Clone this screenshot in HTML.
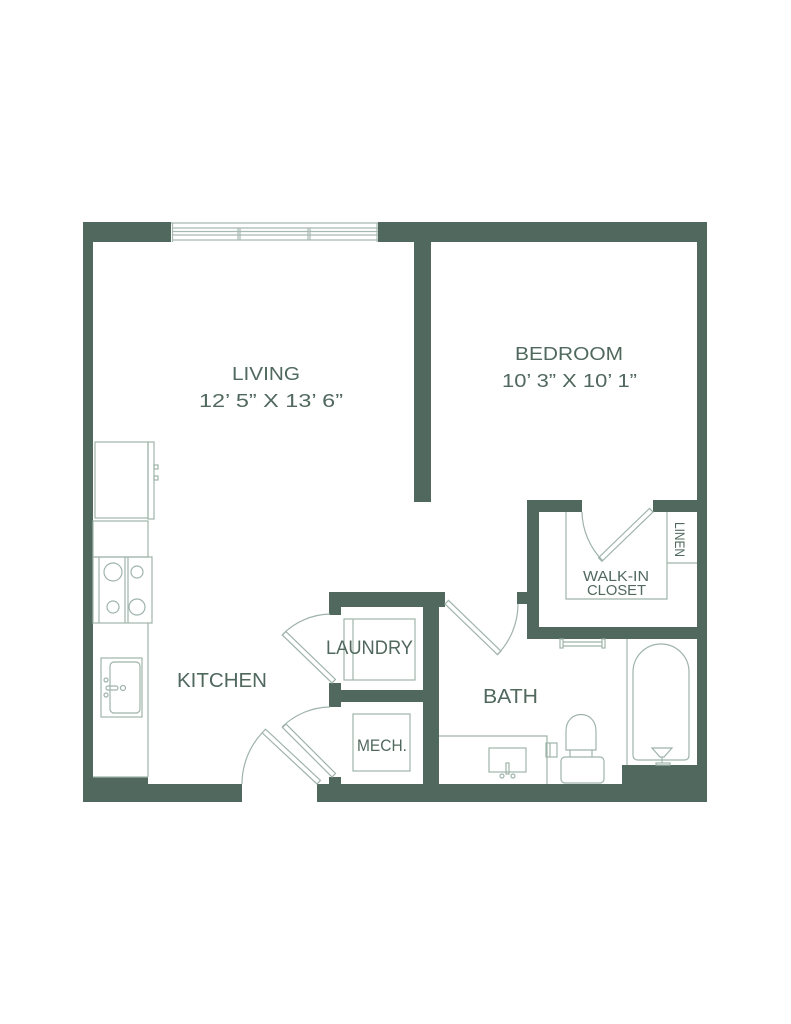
<!DOCTYPE html>
<html>
<head>
<meta charset="utf-8">
<style>
html,body{margin:0;padding:0;background:#fff;}
svg{display:block;}
text{font-family:"Liberation Sans",sans-serif;fill:#50685e;}
</style>
</head>
<body>
<svg width="791" height="1024" viewBox="0 0 791 1024" xmlns="http://www.w3.org/2000/svg">
<rect x="0" y="0" width="791" height="1024" fill="#fff"/>

<!-- Window -->
<g fill="none" stroke="#a7b9b2" stroke-width="1.2">
  <line x1="171" y1="223" x2="378" y2="223"/>
  <line x1="172" y1="228" x2="378" y2="228"/>
  <line x1="172" y1="231.5" x2="378" y2="231.5"/>
  <line x1="172" y1="235" x2="378" y2="235"/>
  <line x1="172" y1="240" x2="378" y2="240"/>
  <line x1="172.5" y1="223" x2="172.5" y2="242"/>
  <line x1="238" y1="228" x2="238" y2="240"/>
  <line x1="240" y1="228" x2="240" y2="240"/>
  <line x1="308" y1="228" x2="308" y2="240"/>
  <line x1="310" y1="228" x2="310" y2="240"/>
  <line x1="377" y1="223" x2="377" y2="242"/>
</g>

<!-- Walls -->
<g fill="#50685e">
  <rect x="83" y="222" width="88" height="20"/>
  <rect x="83" y="222" width="10" height="580"/>
  <rect x="378" y="222" width="329" height="20"/>
  <rect x="697" y="222" width="10" height="580"/>
  <rect x="414" y="240" width="17" height="262"/>
  <rect x="83" y="784" width="159" height="18"/>
  <rect x="93" y="777" width="55" height="8"/>
  <rect x="317" y="784" width="390" height="18"/>
  <!-- laundry / mech block -->
  <rect x="329" y="592" width="116" height="15"/>
  <rect x="329" y="606" width="12" height="9"/>
  <rect x="329" y="683" width="12" height="24"/>
  <rect x="329" y="777" width="12" height="8"/>
  <rect x="340" y="690" width="84" height="12"/>
  <rect x="423" y="592" width="16" height="193"/>
  <!-- closet -->
  <rect x="527" y="500" width="55" height="12"/>
  <rect x="653" y="500" width="45" height="12"/>
  <rect x="527" y="500" width="12" height="139"/>
  <rect x="527" y="627" width="171" height="12"/>
  <rect x="517" y="592" width="11" height="12"/>
  <!-- tub end -->
  <rect x="622" y="765" width="76" height="20"/>
</g>

<!-- Fixtures -->
<g fill="none" stroke="#9fb3ab" stroke-width="1.2">
  <!-- fridge -->
  <rect x="95" y="442" width="53" height="76"/>
  <rect x="148" y="442" width="6" height="77"/>
  <rect x="154" y="465" width="4" height="4"/>
  <rect x="154" y="476" width="4" height="4"/>
  <!-- counter -->
  <rect x="93" y="521" width="55" height="36"/>
  <!-- range -->
  <rect x="93" y="557" width="59" height="66"/>
  <line x1="99" y1="557" x2="99" y2="623"/>
  <line x1="125" y1="557" x2="125" y2="623"/>
  <line x1="128" y1="557" x2="128" y2="623"/>
  <circle cx="113" cy="572" r="9"/>
  <circle cx="137" cy="572" r="6"/>
  <circle cx="113" cy="607" r="6"/>
  <circle cx="137" cy="607" r="8"/>
  <line x1="148" y1="623" x2="148" y2="777"/>
  <line x1="93" y1="777" x2="148" y2="777"/>
  <!-- sink -->
  <rect x="101" y="658" width="41" height="59"/>
  <rect x="110" y="662" width="30" height="51" rx="4"/>
  <circle cx="106" cy="680" r="2"/>
  <circle cx="106" cy="695" r="2"/>
  <rect x="106" y="686" width="12" height="4" rx="2"/>
  <circle cx="123" cy="688" r="2.5"/>

  <!-- kitchen entry door -->
  <g transform="translate(317,784) rotate(-137)"><rect x="0" y="0" width="75" height="5"/></g>
  <path d="M242,784 A75,75 0 0,1 262,733"/>
  <!-- laundry door -->
  <g transform="translate(332,683) rotate(-136)"><rect x="0" y="0" width="69" height="5"/></g>
  <path d="M282,635 A69,69 0 0,1 330,614"/>
  <!-- mech door -->
  <g transform="translate(332,777) rotate(-135)"><rect x="0" y="0" width="70" height="5"/></g>
  <path d="M282,727 A70,70 0 0,1 330,707"/>
  <!-- bath door -->
  <g transform="translate(445,604) rotate(44)"><rect x="0" y="-5" width="73" height="5"/></g>
  <path d="M518,604 A73,73 0 0,1 497,655"/>
  <!-- closet door -->
  <g transform="translate(653,512) rotate(136)"><rect x="0" y="0" width="71" height="5"/></g>
  <path d="M582,512 A71,71 0 0,0 603,561"/>

  <!-- laundry box -->
  <rect x="344" y="619" width="71" height="61"/>
  <line x1="353" y1="619" x2="353" y2="680"/>
  <!-- mech box -->
  <rect x="353" y="714" width="57" height="57"/>

  <!-- closet shelves -->
  <path d="M566,512 L566,599 L667,599 L667,512"/>
  <line x1="667" y1="563" x2="697" y2="563"/>

  <!-- towel bar -->
  <rect x="560" y="639" width="3" height="9"/>
  <rect x="602" y="639" width="3" height="9"/>
  <line x1="563" y1="642" x2="602" y2="642"/>
  <line x1="563" y1="646" x2="602" y2="646"/>

  <!-- tub -->
  <line x1="627" y1="639" x2="627" y2="765"/>
  <path d="M633,755 L633,672 A28,28 0 0,1 689,672 L689,755 Q689,760 684,760 L638,760 Q633,760 633,755 Z"/>
  <path d="M652,748 L672,748 L664,757 L660,757 Z"/>
  <line x1="662" y1="757" x2="662" y2="763"/>
  <rect x="656" y="763" width="14" height="2"/>

  <!-- vanity -->
  <path d="M439,736 L547,736 L547,784"/>
  <rect x="489" y="748" width="37" height="24"/>
  <rect x="506" y="763" width="3" height="11"/>
  <circle cx="502" cy="776" r="2"/>
  <circle cx="513" cy="776" r="2"/>
  <rect x="546" y="743" width="11" height="14"/>
  <line x1="550" y1="743" x2="550" y2="757"/>

  <!-- toilet -->
  <path d="M566,750 L566,731 C566,709 596,709 596,731 L596,750 Z"/>
  <line x1="570" y1="750" x2="570" y2="757"/>
  <line x1="592" y1="750" x2="592" y2="757"/>
  <rect x="561" y="757" width="43" height="26" rx="4"/>
</g>

<!-- Labels -->
<text x="232" y="380" font-size="18" textLength="68" lengthAdjust="spacingAndGlyphs">LIVING</text>
<text x="199" y="407" font-size="18.5" textLength="144" lengthAdjust="spacingAndGlyphs">12’ 5” X 13’ 6”</text>
<text x="515" y="360" font-size="18" textLength="108" lengthAdjust="spacingAndGlyphs">BEDROOM</text>
<text x="502" y="387" font-size="18.5" textLength="135" lengthAdjust="spacingAndGlyphs">10’ 3” X 10’ 1”</text>
<text x="177" y="687" font-size="20" textLength="90" lengthAdjust="spacingAndGlyphs">KITCHEN</text>
<text x="326" y="654" font-size="19.5" textLength="87" lengthAdjust="spacingAndGlyphs">LAUNDRY</text>
<text x="483" y="703" font-size="20.5" textLength="55" lengthAdjust="spacingAndGlyphs">BATH</text>
<text x="357" y="751" font-size="17" textLength="50" lengthAdjust="spacingAndGlyphs">MECH.</text>
<text x="583" y="581" font-size="15" textLength="66" lengthAdjust="spacingAndGlyphs">WALK-IN</text>
<text x="587" y="595" font-size="14.5" textLength="59" lengthAdjust="spacingAndGlyphs">CLOSET</text>
<text transform="translate(675,522) rotate(90)" x="0" y="0" font-size="14" textLength="35" lengthAdjust="spacingAndGlyphs">LINEN</text>
</svg>
</body>
</html>
